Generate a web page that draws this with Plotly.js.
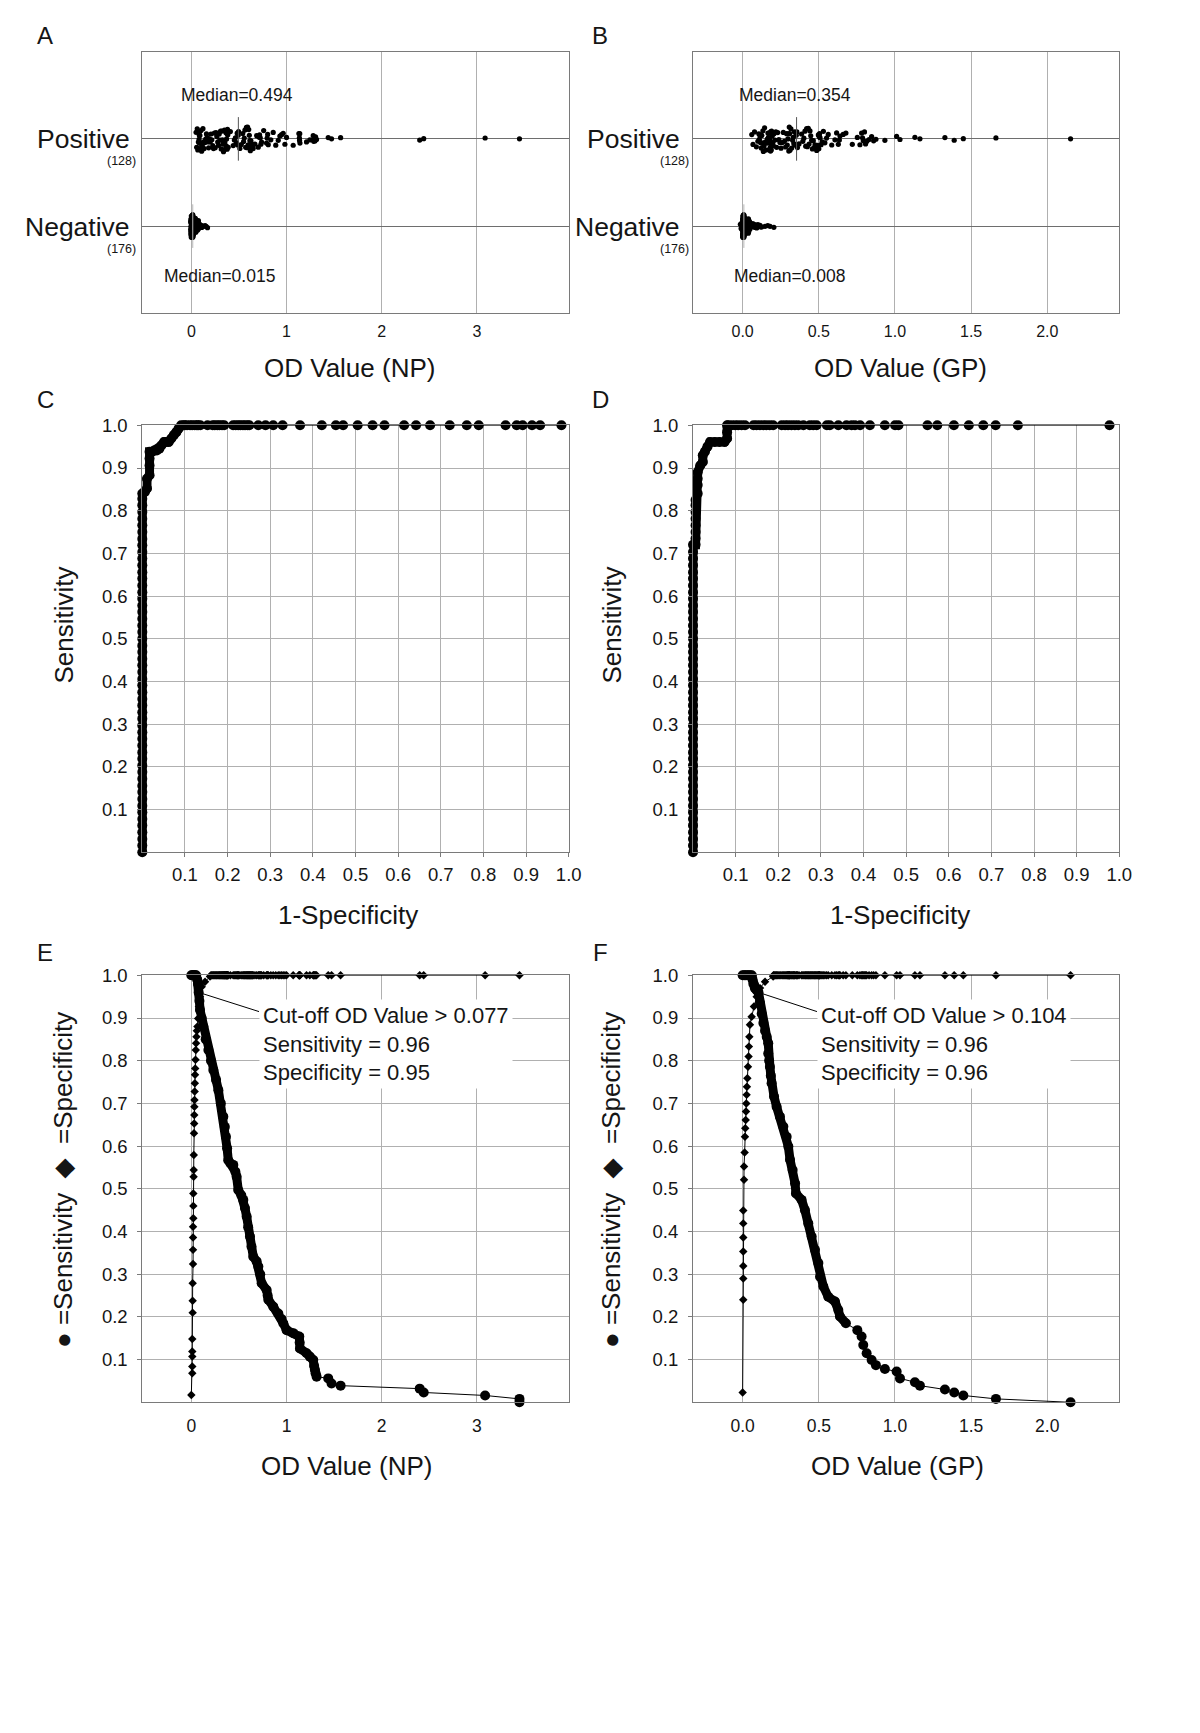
<!DOCTYPE html>
<html><head><meta charset="utf-8">
<script src="https://cdn.plot.ly/plotly-3.0.1.min.js"></script>
<style>html,body{margin:0;padding:0;background:#fff}#chart{width:1200px;height:1733px}</style>
</head><body><div id="chart"></div>
<script>
// ---------- DATA ----------
// Panel A/B: individual OD values (positive n=128, negative n=176)
const posNP = [0.05,0.056,0.062,0.068,0.074,0.079,0.081,0.083,0.085,0.087,0.09,
0.095,0.102,0.108,0.115,0.122,0.128,0.135,0.143,0.151,0.159,0.167,0.175,
0.182,0.19,0.198,0.206,0.215,0.225,0.233,0.242,0.251,0.26,0.268,0.277,
0.286,0.293,0.3,0.307,0.314,0.321,0.327,0.333,0.338,0.343,0.348,0.352,0.357,0.362,
0.366,0.37,0.373,0.376,0.38,0.383,0.387,0.41,0.44,0.452,0.463,0.474,
0.482,0.487,0.492,0.496,0.51,0.525,0.54,0.549,0.556,0.563,0.571,0.579,
0.585,0.591,0.597,0.603,0.609,0.615,0.62,0.626,0.632,0.638,0.644,0.65,
0.668,0.686,0.703,0.71,0.717,0.724,0.731,0.738,0.76,0.79,0.796,0.802,0.808,
0.835,0.86,0.887,0.913,0.93,0.948,0.965,0.983,1.0,1.07,1.13,
1.135,1.137,1.139,1.141,1.21,1.245,1.28,1.285,1.29,1.298,1.305,1.315,
1.438,1.473,1.568,2.399,2.441,3.086,3.447];
const negNP = [-0.006,-0.005,-0.004,-0.004,-0.003,-0.003,-0.002,-0.002,-0.002,-0.001,-0.001,-0.001,-0.001,0,0,0,0,0,0,0,0.001,0.001,0.001,0.001,0.001,0.002,0.002,
0.002,0.003,0.003,0.003,0.004,0.004,0.004,0.005,0.005,0.005,0.005,0.006,0.006,0.006,0.007,0.007,0.007,0.008,0.008,0.008,0.009,0.009,0.009,0.010,0.010,0.010,0.011,
0.011,0.011,0.011,0.011,0.012,0.012,0.012,0.012,0.012,0.013,0.013,0.013,0.013,0.013,0.013,
0.014,0.014,0.014,0.014,0.014,0.014,0.014,
0.015,0.015,0.015,0.015,0.015,0.015,0.015,0.015,0.015,0.015,0.015,0.015,0.015,
0.016,0.016,0.017,0.017,0.018,0.018,0.019,0.019,0.020,0.020,0.021,0.021,0.022,0.022,0.023,0.023,0.024,0.024,0.025,0.026,0.026,0.027,0.028,
0.029,0.030,0.030,0.031,0.032,0.032,0.033,0.034,0.034,0.035,0.035,0.036,0.036,0.037,0.037,0.038,0.038,0.039,0.039,0.040,0.040,0.041,0.041,0.042,0.042,0.042,
0.043,0.044,0.045,0.046,0.047,0.048,0.049,0.050,0.051,0.052,0.052,
0.054,0.056,0.058,0.060,0.062,0.063,0.065,0.067,0.068,0.070,
0.071,0.072,0.073,0.074,0.075,0.075,0.076,0.077,0.077,
0.085,0.095,0.105,0.11,0.125,0.144,0.155,0.17];
const posGP = [0.06,0.068,0.078,0.09,0.1,0.106,0.11,0.114,0.118,0.122,0.126,
0.13,0.133,0.136,0.14,0.144,0.148,0.152,0.156,0.162,0.166,0.169,0.17,0.171,
0.173,0.175,0.177,0.179,0.181,0.183,0.185,0.188,0.19,0.194,0.198,0.202,0.206,
0.212,0.218,0.223,0.23,0.238,0.245,0.252,0.26,0.267,0.274,0.282,0.289,
0.293,0.297,0.3,0.303,0.306,0.308,0.311,0.317,0.322,0.328,0.332,0.336,0.34,0.344,
0.352,0.356,0.36,0.37,0.387,0.395,0.402,0.409,0.414,0.42,0.425,0.431,
0.436,0.442,0.447,0.453,0.458,0.464,0.47,0.475,0.48,0.486,0.491,0.497,
0.5,0.503,0.505,0.508,0.515,0.522,0.53,0.54,0.551,0.562,
0.585,0.606,0.617,0.628,0.635,0.639,0.66,0.678,0.72,0.753,0.77,0.781,0.787,0.792,0.80,0.807,0.814,0.83,0.847,0.86,
0.875,0.934,1.011,1.033,1.131,1.164,1.328,1.389,1.449,1.663,2.153];
const negGP = [-0.015,-0.01,-0.006,-0.003,0,
0,0,0,0,0,0.001,0.001,0.001,0.001,0.001,0.001,0.001,0.001,
0.002,0.002,0.002,0.002,0.002,0.002,0.002,0.002,0.003,0.003,0.003,0.003,0.003,0.003,0.003,0.003,
0.004,0.004,0.004,0.004,0.004,0.004,0.004,0.004,
0.004,0.004,0.004,0.004,0.004,0.004,
0.005,0.005,0.005,0.005,0.005,0.005,0.005,0.005,0.005,0.005,
0.006,0.006,0.006,0.006,0.006,0.006,0.006,0.006,0.006,0.006,
0.007,0.007,0.007,0.007,0.007,0.007,0.007,0.007,0.007,0.007,0.007,0.007,
0.008,0.008,0.008,0.008,0.008,0.008,0.008,0.008,0.008,0.008,0.008,0.008,
0.009,0.009,0.009,0.010,0.010,0.011,0.011,0.012,0.012,0.013,0.013,0.013,
0.014,0.015,0.015,0.016,0.016,0.017,0.017,0.018,0.018,0.019,0.019,0.020,0.020,0.021,0.021,0.022,0.022,0.023,0.023,0.024,
0.025,0.026,0.026,0.027,0.028,0.028,0.029,0.030,0.030,0.031,0.032,0.032,0.033,0.034,0.035,
0.036,0.036,0.037,0.037,0.038,0.038,0.039,0.039,0.040,0.040,0.041,0.042,0.043,
0.044,0.045,0.046,0.047,0.048,0.050,0.054,0.059,
0.063,0.066,0.070,0.074,0.078,0.083,0.088,0.092,0.100,
0.108,0.114,0.125,0.147,0.165,0.18,0.205];
const medianPosNP = 0.494, medianNegNP = 0.015;
const medianPosGP = 0.354, medianNegGP = 0.008;
const nPos = 128, nNeg = 176;

// Panel C/D: ROC curves (x = 1-Specificity, y = Sensitivity)
// sensitivity levels reached at 1-Specificity = 0 (vertical run of points)
const rocC_vertY = [0,0.016,0.031,0.047,0.063,0.078,0.094,0.109,0.125,0.141,0.156,0.172,0.188,0.203,0.219,0.234,0.25,0.266,0.281,0.297,0.313,0.328,0.344,0.359,0.375,0.391,0.406,0.422,0.438,0.453,0.469,0.484,0.5,0.516,0.531,0.547,0.563,0.578,0.594,0.609,0.625,0.641,0.656,0.672,0.688,0.703,0.719,0.734,0.75,0.766,0.781,0.797,0.813,0.828,0.84];
const rocC_x = [0.006,0.011,0.011,0.017,0.017,0.017,0.017,0.023,0.028,0.034,0.040,0.045,0.051,0.057,0.062,0.068,0.074,0.080,0.085,0.091];
const rocC_y = [0.844,0.852,0.875,0.883,0.906,0.922,0.938,0.938,0.941,0.941,0.945,0.953,0.961,0.961,0.961,0.969,0.977,0.984,0.992,1.0];
const rocC_topX = [0.097,0.100,0.105,0.112,0.117,0.123,0.128,0.131,0.136,0.153,0.165,0.170,0.176,0.181,0.187,0.192,0.213,0.219,0.225,0.230,0.236,0.241,0.247,0.251,0.272,0.289,0.307,0.329,0.370,0.421,0.454,0.471,0.505,0.540,0.568,0.614,0.642,0.675,0.721,0.761,0.789,0.852,0.878,0.892,0.914,0.933,0.983];
const rocD_vertY = [0,0.016,0.031,0.047,0.063,0.078,0.094,0.109,0.125,0.141,0.156,0.172,0.188,0.203,0.219,0.234,0.25,0.266,0.281,0.297,0.313,0.328,0.344,0.359,0.375,0.391,0.406,0.422,0.438,0.453,0.469,0.484,0.5,0.516,0.531,0.547,0.563,0.578,0.594,0.609,0.625,0.641,0.656,0.672,0.688,0.703,0.72];
const rocD_x = [0.006,0.006,0.006,0.006,0.006,0.006,0.006,0.006,0.011,0.011,0.011,0.011,0.017,0.023,0.023,0.028,0.034,0.040,0.051,0.062,0.074,0.080,0.080,0.080];
const rocD_y = [0.72,0.735,0.75,0.766,0.781,0.797,0.813,0.825,0.84,0.86,0.875,0.89,0.906,0.914,0.93,0.938,0.95,0.961,0.961,0.961,0.961,0.969,0.984,1.0];
const rocD_topX = [0.083,0.091,0.099,0.106,0.114,0.122,0.142,0.149,0.157,0.165,0.172,0.180,0.188,0.208,0.216,0.223,0.231,0.239,0.247,0.259,0.274,0.282,0.290,0.314,0.321,0.341,0.360,0.372,0.380,0.392,0.415,0.450,0.474,0.482,0.550,0.573,0.612,0.647,0.681,0.710,0.762,0.977];

// Panel E/F: sensitivity and specificity vs OD cut-off
const sensNP_x = [0.0,0.01,0.02,0.03,0.04,0.05,0.062,0.07,0.077,0.085,0.091,0.108,0.126,0.151,0.179,0.206,0.231,0.26,0.284,0.31,0.336,0.352,0.364,0.376,0.388,0.41,0.441,0.463,0.476,0.493,0.525,0.546,0.563,0.581,0.597,0.616,0.632,0.651,0.686,0.704,0.724,0.739,0.791,0.802,0.809,0.861,0.914,0.948,0.966,1.001,1.071,1.134,1.138,1.141,1.211,1.245,1.281,1.29,1.298,1.305,1.316,1.438,1.473,1.568,2.399,2.441,3.086,3.447,3.447];
const sensNP_y = [1,1,1,1,1,1,0.99,0.98,0.96,0.94,0.919,0.9,0.88,0.85,0.825,0.8,0.778,0.755,0.731,0.7,0.669,0.645,0.622,0.595,0.567,0.56,0.556,0.54,0.528,0.497,0.485,0.474,0.455,0.435,0.41,0.388,0.365,0.341,0.33,0.318,0.3,0.279,0.263,0.25,0.24,0.224,0.208,0.195,0.185,0.169,0.162,0.154,0.14,0.126,0.115,0.107,0.099,0.085,0.076,0.068,0.06,0.056,0.044,0.039,0.032,0.023,0.016,0.008,0];
const specNP_x = [0,0.01,0.01,0.01,0.01,0.01,0.014,0.014,0.014,0.018,0.018,0.018,0.018,0.021,0.021,0.021,0.024,0.025,0.026,0.028,0.03,0.031,0.032,0.033,0.035,0.037,0.039,0.041,0.044,0.047,0.05,0.054,0.058,0.064,0.072,0.08,0.091,0.109,0.144,0.196];
const specNP_y = [0.017,0.068,0.084,0.107,0.119,0.148,0.21,0.238,0.279,0.324,0.357,0.386,0.411,0.431,0.46,0.489,0.528,0.544,0.579,0.63,0.653,0.673,0.692,0.708,0.728,0.747,0.767,0.782,0.802,0.825,0.841,0.856,0.870,0.880,0.899,0.927,0.95,0.973,0.985,0.997];
const sensGP_x = [0.0,0.01,0.02,0.03,0.04,0.05,0.06,0.065,0.07,0.08,0.092,0.104,0.114,0.125,0.136,0.147,0.158,0.168,0.168,0.174,0.179,0.185,0.19,0.206,0.223,0.245,0.267,0.289,0.3,0.311,0.328,0.344,0.35,0.387,0.409,0.431,0.453,0.475,0.497,0.508,0.53,0.562,0.606,0.628,0.639,0.678,0.753,0.781,0.792,0.814,0.847,0.875,0.934,1.011,1.033,1.131,1.164,1.328,1.389,1.449,1.663,2.153];
const sensGP_y = [1,1,1,1,1,1,1,0.99,0.98,0.97,0.965,0.96,0.935,0.91,0.888,0.87,0.856,0.841,0.817,0.8,0.786,0.765,0.747,0.716,0.692,0.669,0.646,0.622,0.599,0.568,0.544,0.513,0.489,0.474,0.45,0.419,0.388,0.357,0.326,0.294,0.271,0.247,0.236,0.216,0.201,0.185,0.169,0.154,0.134,0.115,0.099,0.087,0.078,0.072,0.056,0.047,0.039,0.030,0.023,0.016,0.008,0.0];
const specGP_x = [0,0.004,0.004,0.004,0.004,0.004,0.004,0.004,0.009,0.009,0.013,0.015,0.017,0.02,0.022,0.024,0.026,0.028,0.031,0.035,0.039,0.041,0.044,0.048,0.059,0.074,0.092,0.114,0.147,0.2];
const specGP_y = [0.023,0.24,0.29,0.319,0.353,0.386,0.419,0.449,0.521,0.552,0.585,0.622,0.642,0.661,0.681,0.7,0.72,0.739,0.759,0.786,0.81,0.833,0.856,0.884,0.903,0.927,0.95,0.97,0.985,0.997];
const cutoffNP = 0.077, sensCutNP = 0.96, specCutNP = 0.95;
const cutoffGP = 0.104, sensCutGP = 0.96, specCutGP = 0.96;

// Tick labels
const odTicksNP = [0,1,2,3];
const odTickTextNP = ['0','1','2','3'];
const odTicksGP = [0,0.5,1,1.5,2];
const odTickTextGP = ['0.0','0.5','1.0','1.5','2.0'];
const fracTicks = [0.1,0.2,0.3,0.4,0.5,0.6,0.7,0.8,0.9,1.0];
const fracTickText = ['0.1','0.2','0.3','0.4','0.5','0.6','0.7','0.8','0.9','1.0'];

// ---------- LAYOUT HELPERS ----------
const W = 1200, H = 1733;
const FONT = 'Liberation Sans, Arial, DejaVu Sans, sans-serif';
const TXT = '#151515', FRAME = '#7a7a7a', GRID = '#b0b0b0';
const colL = [142.3, 568.7], colR = [693, 1119.3];
const rowA = [51.7, 313.3], rowC = [425.3, 852.3], rowE = [975.3, 1402.3];
const dx = a => [a[0]/W, a[1]/W];
const dy = a => [1 - a[1]/H, 1 - a[0]/H];
const PX = x => x / W, PY = y => 1 - y / H;

function ax(extra) {
  return Object.assign({
    showline: true, mirror: true, linecolor: FRAME, linewidth: 1,
    zeroline: false, showgrid: true, gridcolor: GRID, gridwidth: 1,
    fixedrange: true, ticks: '', tickmode: 'array',
    tickfont: {family: FONT, size: 16, color: TXT}
  }, extra);
}
const fracAxis = (dom, anchor, standoff) => ax({
  domain: dom, anchor: anchor, range: [0, 1],
  tickvals: fracTicks, ticktext: fracTickText,
  ticks: 'outside', ticklen: 4, tickcolor: FRAME, ticklabelstandoff: standoff,
  tickfont: {family: FONT, size: 18.5, color: TXT}
});

// ---------- TRACES ----------
const traces = [];
function dotPanel(pos, neg, mPos, mNeg, xa, ya) {
  traces.push({type: 'scatter', mode: 'lines', x: [mPos, mPos], y: [1 - 0.25, 1 + 0.25],
    xaxis: xa, yaxis: ya, line: {color: '#555', width: 1}, hoverinfo: 'skip'});
  traces.push({type: 'scatter', mode: 'lines', x: [mNeg, mNeg], y: [-0.25, 0.25],
    xaxis: xa, yaxis: ya, line: {color: '#b8b8b8', width: 1}, hoverinfo: 'skip'});
  [[pos, 1, 0.3], [neg, 0, 0.26]].forEach(([vals, row, w]) => {
    traces.push({type: 'box', orientation: 'h', x: vals, y0: row, xaxis: xa, yaxis: ya,
      boxpoints: 'all', jitter: 1, pointpos: 0, width: w, whiskerwidth: 0,
      fillcolor: 'rgba(0,0,0,0)', line: {color: 'rgba(0,0,0,0)', width: 0},
      marker: {color: '#000', size: 5.2}, hoverinfo: 'skip'});
  });
}
dotPanel(posNP, negNP, medianPosNP, medianNegNP, 'x', 'y');
dotPanel(posGP, negGP, medianPosGP, medianNegGP, 'x2', 'y2');

function rocPanel(vertY, cx, cy, topX, xa, ya) {
  const X = vertY.map(() => 0).concat(cx), Y = vertY.concat(cy);
  traces.push({type: 'scatter', mode: 'lines', x: X, y: Y, xaxis: xa, yaxis: ya,
    line: {color: '#000', width: 9}, cliponaxis: false, hoverinfo: 'skip'});
  traces.push({type: 'scatter', mode: 'lines+markers',
    x: X.concat(topX), y: Y.concat(topX.map(() => 1)), xaxis: xa, yaxis: ya,
    line: {color: '#000', width: 1}, marker: {symbol: 'circle', size: 10, color: '#000'},
    cliponaxis: false, hoverinfo: 'skip'});
}
rocPanel(rocC_vertY, rocC_x, rocC_y, rocC_topX, 'x3', 'y3');
rocPanel(rocD_vertY, rocD_x, rocD_y, rocD_topX, 'x4', 'y4');

function cutPanel(sx, sy, px, pyv, posVals, denseMax, specFrom, cut, sensCut, leadEnd, xa, ya) {
  const n = sx.filter(v => v <= denseMax).length;
  traces.push({type: 'scatter', mode: 'lines', x: [cut, leadEnd[0]], y: [sensCut, leadEnd[1]],
    xaxis: xa, yaxis: ya, line: {color: '#000', width: 1}, hoverinfo: 'skip'});
  const topX = posVals.filter(v => v > specFrom);
  traces.push({type: 'scatter', mode: 'lines+markers',
    x: px.concat(topX), y: pyv.concat(topX.map(() => 1)), xaxis: xa, yaxis: ya,
    line: {color: '#000', width: 1}, marker: {symbol: 'diamond', size: 6.5, color: '#000'},
    cliponaxis: false, hoverinfo: 'skip'});
  traces.push({type: 'scatter', mode: 'lines', x: sx.slice(0, n), y: sy.slice(0, n),
    xaxis: xa, yaxis: ya, line: {color: '#000', width: 9}, cliponaxis: false, hoverinfo: 'skip'});
  traces.push({type: 'scatter', mode: 'lines+markers', x: sx, y: sy, xaxis: xa, yaxis: ya,
    line: {color: '#000', width: 1}, marker: {symbol: 'circle', size: 10, color: '#000'},
    cliponaxis: false, hoverinfo: 'skip'});
}
cutPanel(sensNP_x, sensNP_y, specNP_x, specNP_y, posNP, 1.32, 0.2, cutoffNP, sensCutNP, [0.711, 0.915], 'x5', 'y5');
cutPanel(sensGP_x, sensGP_y, specGP_x, specGP_y, posGP, 0.68, 0.2, cutoffGP, sensCutGP, [0.488, 0.915], 'x6', 'y6');

// ---------- ANNOTATIONS ----------
const anns = [];
function txt(text, x, y, size, extra) {
  anns.push(Object.assign({text: text, xref: 'paper', yref: 'paper', x: PX(x), y: PY(y),
    xanchor: 'center', yanchor: 'middle', showarrow: false,
    font: {family: FONT, size: size, color: TXT}}, extra || {}));
}
[['A', 45, 36], ['B', 600, 36], ['C', 45, 399], ['D', 600, 399], ['E', 45, 952], ['F', 600, 952]]
  .forEach(([t, x, y]) => txt(t, x, y, 24));
// row labels
[[131.5, 137.5], [682, 691]].forEach(([xr, xs]) => {
  txt('Positive', xr, 139, 26.5, {xanchor: 'right'});
  txt('(' + nPos + ')', xs, 161, 12.5, {xanchor: 'right'});
  txt('Negative', xr, 227, 26.5, {xanchor: 'right'});
  txt('(' + nNeg + ')', xs, 249, 12.5, {xanchor: 'right'});
});
txt('Median=' + medianPosNP.toFixed(3), 236.7, 95, 17.5);
txt('Median=' + medianNegNP.toFixed(3), 219, 275.7, 17.5);
txt('Median=' + medianPosGP.toFixed(3), 795, 95, 17.5);
txt('Median=' + medianNegGP.toFixed(3), 789.3, 275.7, 17.5);
// axis titles
txt('OD Value (NP)', 349, 368, 26);
txt('OD Value (GP)', 900, 368, 26);
txt('1-Specificity', 348, 915, 26);
txt('1-Specificity', 899.5, 915, 26);
txt('Sensitivity', 63, 625.5, 26, {textangle: -90});
txt('Sensitivity', 611, 625.5, 26, {textangle: -90});
txt('OD Value (NP)', 346, 1466, 26);
txt('OD Value (GP)', 897, 1466, 26);
const sp = '\u00A0';
const eTitle = '\u25CF' + sp + '=Sensitivity' + sp + sp + '\u25C6' + sp + sp + '=Specificity';
txt(eTitle, 63, 1180, 26, {textangle: -90});
txt(eTitle, 611, 1180, 26, {textangle: -90});
// cut-off boxes
function cutBox(cut, se, spv, x, xa, ya) {
  anns.push({text: 'Cut-off OD Value &gt; ' + cut.toFixed(3) + '<br>Sensitivity = ' + se.toFixed(2) +
      '<br>Specificity = ' + spv.toFixed(2),
    xref: xa, yref: ya, x: x, y: 0.838, xanchor: 'left', yanchor: 'middle', align: 'left',
    showarrow: false, bgcolor: '#ffffff', borderpad: 3,
    font: {family: FONT, size: 22, color: TXT}});
}
cutBox(cutoffNP, sensCutNP, specCutNP, 0.711, 'x5', 'y5');
cutBox(cutoffGP, sensCutGP, specCutGP, 0.488, 'x6', 'y6');

// ---------- LAYOUT ----------
const layout = {
  width: W, height: H, autosize: false, showlegend: false,
  margin: {l: 0, r: 0, t: 0, b: 0}, paper_bgcolor: '#fff', plot_bgcolor: '#fff',
  font: {family: FONT, color: TXT},
  xaxis: ax({domain: dx(colL), anchor: 'y', range: [-0.515, 3.964], tickvals: odTicksNP, ticktext: odTickTextNP, ticklabelstandoff: 3}),
  yaxis: ax({domain: dy(rowA), anchor: 'x', type: 'linear', range: [-1, 2], tickvals: [0, 1], showticklabels: false, gridcolor: '#6e6e6e'}),
  xaxis2: ax({domain: dx(colR), anchor: 'y2', range: [-0.326, 2.473], tickvals: odTicksGP, ticktext: odTickTextGP, ticklabelstandoff: 3}),
  yaxis2: ax({domain: dy(rowA), anchor: 'x2', type: 'linear', range: [-1, 2], tickvals: [0, 1], showticklabels: false, gridcolor: '#6e6e6e'}),
  xaxis3: fracAxis(dx(colL), 'y3', 1),
  yaxis3: fracAxis(dy(rowC), 'x3', 6),
  xaxis4: fracAxis(dx(colR), 'y4', 1),
  yaxis4: fracAxis(dy(rowC), 'x4', 6),
  xaxis5: ax({domain: dx(colL), anchor: 'y5', range: [-0.515, 3.964], tickvals: odTicksNP, ticktext: odTickTextNP, ticklabelstandoff: 8, tickfont: {family: FONT, size: 17.5, color: TXT}}),
  yaxis5: fracAxis(dy(rowE), 'x5', 6),
  xaxis6: ax({domain: dx(colR), anchor: 'y6', range: [-0.326, 2.473], tickvals: odTicksGP, ticktext: odTickTextGP, ticklabelstandoff: 8, tickfont: {family: FONT, size: 17.5, color: TXT}}),
  yaxis6: fracAxis(dy(rowE), 'x6', 6),
  annotations: anns
};

Plotly.newPlot('chart', traces, layout, {staticPlot: true, displayModeBar: false});
</script></body></html>
